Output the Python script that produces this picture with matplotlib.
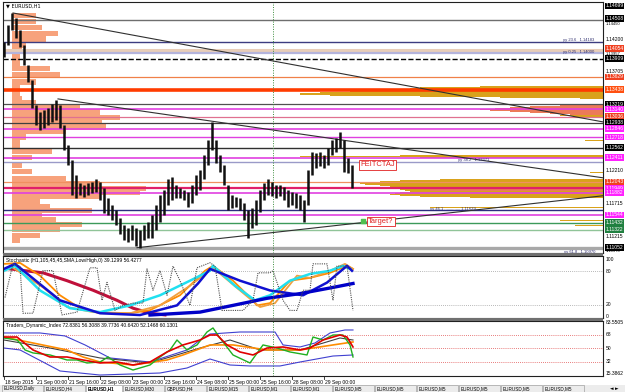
import matplotlib
matplotlib.use('Agg')
import matplotlib.pyplot as plt
import matplotlib.transforms as mtransforms
from matplotlib.patches import Rectangle

plt.rcParams['font.family'] = ['Liberation Sans', 'DejaVu Sans']

# ---------------- data ----------------
# price bars (each = 2 H1 bars), bar index = 2*k
highs = [1.1416, 1.1441, 1.1459, 1.1452, 1.1434, 1.1411, 1.1381, 1.1358, 1.1321, 1.1310,
         1.1313, 1.1316, 1.1322, 1.1328, 1.1321, 1.1290, 1.1260, 1.1238, 1.1215, 1.1203,
         1.1200, 1.1203, 1.1204, 1.1208, 1.1204, 1.1195, 1.1180, 1.1170, 1.1162, 1.1150,
         1.1140, 1.1135, 1.1140, 1.1135, 1.1132, 1.1140, 1.1144, 1.1155, 1.1170, 1.1185,
         1.1192, 1.1208, 1.1211, 1.1200, 1.1195, 1.1192, 1.1189, 1.1200, 1.1215, 1.1223,
         1.1245, 1.1268, 1.1295, 1.1268, 1.1245, 1.1230, 1.1200, 1.1185, 1.1182, 1.1180,
         1.1173, 1.1162, 1.1165, 1.1177, 1.1192, 1.1203, 1.1208, 1.1204, 1.1200, 1.1200,
         1.1197, 1.1192, 1.1189, 1.1188, 1.1185, 1.1177, 1.1223, 1.1250, 1.1248, 1.1250,
         1.1245, 1.1256, 1.1268, 1.1271, 1.1280, 1.1268, 1.1241, 1.1230]
lows = [1.1393, 1.1411, 1.1434, 1.1422, 1.1408, 1.1381, 1.1355, 1.1316, 1.1290, 1.1283,
        1.1286, 1.1290, 1.1295, 1.1298, 1.1286, 1.1253, 1.1230, 1.1185, 1.1180, 1.1185,
        1.1182, 1.1185, 1.1188, 1.1189, 1.1177, 1.1158, 1.1155, 1.1147, 1.1140, 1.1125,
        1.1117, 1.1113, 1.1117, 1.1108, 1.1105, 1.1117, 1.1120, 1.1120, 1.1132, 1.1144,
        1.1155, 1.1170, 1.1177, 1.1180, 1.1180, 1.1177, 1.1167, 1.1173, 1.1185, 1.1192,
        1.1208, 1.1230, 1.1253, 1.1233, 1.1220, 1.1200, 1.1162, 1.1165, 1.1167, 1.1162,
        1.1147, 1.1120, 1.1135, 1.1140, 1.1159, 1.1177, 1.1185, 1.1183, 1.1180, 1.1183,
        1.1177, 1.1167, 1.1170, 1.1165, 1.1162, 1.1144, 1.1170, 1.1215, 1.1226, 1.1229,
        1.1226, 1.1230, 1.1245, 1.1250, 1.1256, 1.1220, 1.1218, 1.1195]

# left volume profile
prof_price = [1.1455, 1.1446, 1.1437, 1.1428, 1.1420, 1.1411, 1.1402, 1.1393, 1.1384, 1.1375,
              1.1366, 1.1355, 1.1346, 1.1337, 1.1330, 1.1324, 1.1318, 1.1310, 1.1302, 1.1295,
              1.1287, 1.1280, 1.1272, 1.1265, 1.1257, 1.1250, 1.1241, 1.1230, 1.1220, 1.1209,
              1.1201, 1.1194, 1.1188, 1.1182, 1.1174, 1.1167, 1.1161, 1.1155, 1.1147, 1.1140,
              1.1132, 1.1123, 1.1116]
prof_vol = [12, 12, 15, 23, 17, 7, 5, 4, 4, 19,
            24, 12, 4, 4, 5, 12, 34, 44, 54, 45,
            47, 27, 7, 4, 4, 20, 10, 5, 10, 27,
            44, 67, 64, 44, 14, 19, 40, 15, 22, 35,
            24, 14, 4]

# right-anchored volume profile rows (gold)
rg_price = [1.13477, 1.13462, 1.13447, 1.13432, 1.13417, 1.13402, 1.13387, 1.13371, 1.13356, 1.13341,
            1.13326, 1.13311, 1.13296,
            1.13040, 1.13025, 1.13010, 1.12663, 1.12437, 1.12421, 1.12406, 1.12180,
            1.12075, 1.12060, 1.12045, 1.12029, 1.12014, 1.11999, 1.11984, 1.11969, 1.11954, 1.11939,
            1.11924, 1.11909, 1.11894, 1.11879, 1.11864, 1.11849, 1.11834, 1.11819, 1.11804,
            1.11652, 1.11456, 1.11381]
rg_len = [61.5, 91.5, 96.5, 101.5, 111.5, 126.5, 141.5, 151.5, 136.5, 111.5,
          91.5, 51.5, 11.5,
          21.5, 15, 10, 9, 101.5, 151.5, 91.5, 6.5,
          81.5, 101.5, 111.5, 116.5, 121.5, 119, 111.5, 106.5, 104, 101.5,
          101.5, 99, 96.5, 101.5, 104, 106.5, 101.5, 91.5, 66.5,
          86.5, 21.5, 14]
# right-anchored rows (salmon)
rs_price = [1.13191, 1.13175, 1.13160, 1.13145, 1.13130, 1.13115, 1.13100, 1.13085, 1.13070, 1.13055,
            1.11939, 1.11924, 1.11909]
rs_len = [21.5, 36.5, 46.5, 54, 61.5, 56.5, 46.5, 36.5, 26.5, 16.5,
          86.5, 86.5, 86.5]

# horizontal levels
lvl_price = [1.14487, 1.14156, 1.14035, 1.13990, 1.13899, 1.13628, 1.13432, 1.13221, 1.13146, 1.13025,
             1.12934, 1.12844, 1.12723, 1.12557, 1.12406, 1.12346, 1.12045, 1.11954, 1.11879, 1.11622,
             1.11547, 1.11426, 1.11321, 1.11050]
lvl_color = ['#6E6E6E', '#3C3C80', '#E8CDB8', '#B4B4DC', '#000000', '#F08048', '#FF3C00', '#505050', '#E040E0', '#E07090',
             '#404040', '#E040E0', '#E040E0', '#303030', '#E040E0', '#9A9AC8', '#F09060', '#E0206A', '#E040E0', '#2C2C80',
             '#E040E0', '#3C9A5A', '#90C498', '#A8A8A8']
lvl_width = [1.0, 1.0, 2.2, 1.6, 1.0, 0.9, 2.6, 0.9, 1.2, 0.9,
             0.9, 1.2, 1.0, 1.0, 1.2, 1.0, 0.9, 1.6, 1.2, 1.0,
             1.2, 1.0, 1.0, 2.4]
lvl_style = ['-', '-', '-', '-', '--', '-', '-', '-', '-', '-',
             '-', '-', '-', '-', '-', '-', '-', '-', '-', '-',
             '-', '-', '-', '-']

# trend lines (bar, price)
trend1 = ([4.5, 299.5], [1.14593, 1.12949])
trend2 = ([27.0, 299.5], [1.13296, 1.12105])
trend3 = ([66.5, 299.5], [1.11050, 1.11834])

# right axis price labels  (bg None = plain scale label)
ylab_price = [1.14699, 1.14508, 1.14427, 1.14200, 1.14054, 1.13978, 1.13909, 1.13705, 1.13629, 1.13438,
              1.13219, 1.13140, 1.13036, 1.12938, 1.12846, 1.12718, 1.12562, 1.12411, 1.12210, 1.12043,
              1.11949, 1.11882, 1.11715, 1.11544, 1.11432, 1.11322, 1.11215, 1.11052, 1.10995]
ylab_text = ['1.14699', '1.14508', '1.14450', '1.14200', '1.14054', '1.13957', '1.13909', '1.13705', '1.13629', '1.13438',
             '1.13219', '1.13140', '1.13036', '1.12938', '1.12846', '1.12718', '1.12562', '1.12411', '1.12210', '1.12043',
             '1.11949', '1.11882', '1.11715', '1.11544', '1.11432', '1.11322', '1.11215', '1.11052', '1.10970']
ylab_bg = ['#000000', '#000000', None, None, '#F04020', None, '#000000', None, '#F04020', '#FF5010',
           '#000000', '#FF20FF', '#F04020', '#000000', '#FF20FF', '#FF20FF', '#000000', '#FF20FF', None, '#F04020',
           '#FF20FF', '#FF20FF', None, '#FF20FF', '#208040', '#208040', None, '#000000', None]
ylab_small = ['1.14450', '1.13957', '1.10970']

# time axis
tick_bars = [0, 16, 32, 48, 64, 80, 96, 112, 128, 144, 160]
tick_labels = ['18 Sep 2015', '21 Sep 00:00', '21 Sep 16:00', '22 Sep 08:00', '23 Sep 00:00', '23 Sep 16:00',
               '24 Sep 08:00', '25 Sep 00:00', '25 Sep 16:00', '28 Sep 08:00', '29 Sep 00:00']
sep_bar = 134.5

# stochastic panel
st_fast_x = [0.5, 4.5, 8, 9.5, 14.5, 19.5, 24.5, 29, 36.5, 43, 46.5, 49, 51.5, 55.5, 59.5, 64.5, 69.5, 71.5, 74.5, 78,
             81.5, 84.5, 88, 93, 96.5, 103, 105.5, 109, 119.5, 124.5, 127, 133, 134.5, 139.5, 143, 146.5, 149.5, 153,
             154.5, 161.5, 164.5, 166.5, 171.5, 174.5]
st_fast_y = [33, 93, 89, 5, 5, 81, 81, 2, 7, 86, 86, 28, 60, 10, 19, 23, 23, 84, 46, 81,
             37, 89, 63, 19, 86, 95, 89, 10, 10, 28, 77, 77, 81, 28, 10, 10, 46, 46,
             93, 93, 28, 89, 89, 10]
st_crim_x = [3, 19.5, 31.5, 44.5, 56.5, 64.5, 73, 80.5]
st_crim_y = [84, 77, 63, 46, 28, 14, 5, 2]
st_or1_x = [0.5, 8, 18, 28, 38, 48, 63, 73, 88, 100.5, 104.5, 114.5, 123, 126.5, 133, 143, 153, 163, 171.5, 174.5]
st_or1_y = [93, 94.7, 72, 37, 14, 5, 5, 10.5, 37, 80.7, 89.5, 63, 33, 19, 23, 63, 68, 77, 89.5, 84]
st_or2_x = [3, 19.5, 31.5, 44.5, 63, 78, 93, 104.5, 118, 128, 135.5, 146.5, 153, 163, 170.5, 174.5]
st_or2_y = [89.5, 51, 16, 7, 5, 19, 54, 86, 45.6, 16, 23, 72, 68, 80.7, 93, 84]
st_cyan_x = [0, 5.5, 18, 33, 48, 63, 78, 93, 103, 104.5, 115.5, 125.5, 133, 143, 153, 163, 169.5, 173]
st_cyan_y = [80.7, 89.5, 45.6, 14, 7, 19, 37, 63, 80.7, 89.5, 54, 28, 37, 63, 75, 80.7, 89.5, 84]
st_blue1_x = [0, 5.5, 28, 48, 68, 86.5, 97, 103, 118, 133, 149.5, 161.5, 171.5, 174]
st_blue1_y = [84, 93, 28, 5, 1.8, 19, 58, 84, 63, 45.6, 37, 59.6, 89.5, 80.7]
st_blue2_x = [73, 98, 114.5, 131.5, 148, 164.5, 174.5]
st_blue2_y = [1.8, 7, 19, 31.6, 40, 51, 58]

# TDI panel
td_up_x = [0, 18, 30.5, 40.5, 53, 73, 91.5, 98, 103, 118, 135.5, 139.5, 148, 155.5, 163, 170.5, 174.5]
td_up_y = [70.2, 70.2, 66.2, 54.2, 36.8, 31.4, 47.5, 60.8, 68.8, 71.5, 71.5, 54.2, 51.5, 56.8, 70.2, 74.2, 74.2]
td_lo_x = [0, 8, 19.5, 28, 48, 78, 91.5, 103, 113, 123, 138, 148, 164.5, 174.5]
td_lo_y = [50.1, 47.5, 31.4, 19.4, 14.0, 16.7, 23.4, 35.4, 27.4, 26.1, 26.1, 31.4, 39.4, 40.8]
td_gr_x = [0, 6.5, 8, 10.5, 14.5, 23, 31.5, 36.5, 41.5, 48, 52, 58, 64.5, 73, 78, 83, 86.5, 91.5, 96.5, 101.5,
           104.5, 108, 114.5, 123, 129.5, 136.5, 143, 151.5, 154.5, 159.5, 164.5, 169.5, 173, 174.5]
td_gr_y = [63.5, 60.8, 56.8, 47.5, 43.5, 40.8, 34.1, 34.1, 30.1, 31.4, 38.1, 27.4, 20.7, 27.4, 38.1, 47.5, 60.8, 47.5, 54.2, 71.5,
           76.9, 63.5, 40.8, 30.1, 54.2, 50.1, 44.8, 40.8, 64.8, 60.8, 67.5, 67.5, 54.2, 38.1]
td_rd_x = [0, 6.5, 14.5, 23, 31.5, 39.5, 48, 56.5, 64.5, 73, 81.5, 89.5, 98, 103, 106.5, 111.5, 118, 124.5, 131.5,
           139.5, 148, 153, 159.5, 168, 171.5, 174.5]
td_rd_y = [64.8, 64.8, 47.5, 38.1, 38.1, 34.1, 30.1, 31.4, 27.4, 31.4, 44.8, 54.2, 60.8, 67.5, 67.5, 54.2, 44.8, 40.8, 50.1,
           51.5, 47.5, 50.1, 60.8, 67.5, 64.8, 51.5]
td_or_x = [0, 14.5, 31.5, 39.5, 48, 64.5, 81.5, 89.5, 103, 114.5, 131.5, 148, 164.5, 174.5]
td_or_y = [64.8, 56.8, 47.5, 38.1, 31.4, 27.4, 34.1, 40.8, 54.2, 54.2, 47.5, 47.5, 54.2, 58.2]
td_gy_x = [0, 23, 48, 73, 98, 113, 128, 148, 168, 174.5]
td_gy_y = [60.8, 50.1, 36.8, 30.1, 50.1, 60.8, 47.5, 47.5, 63.5, 60.8]

tabs = ['EURUSD,Daily', 'EURUSD,H4', 'EURUSD,H1', 'EURUSD,M30', 'GBPUSD,H4', 'EURUSD,M15', 'EURUSD,M1',
        'EURUSD,M1', 'EURUSD,M5', 'EURUSD,M5', 'EURUSD,M5', 'EURUSD,M5', 'EURUSD,M5', 'EURUSD,M5']

# ---------------- figure ----------------
W, H = 625, 392
fig = plt.figure(figsize=(W / 100, H / 100), dpi=100)
fig.patch.set_facecolor('white')


def pax(x0, y0, x1, y1):
    a = fig.add_axes([x0 / W, 1 - y1 / H, (x1 - x0) / W, (y1 - y0) / H])
    a.set_xlim(-0.5, 299.5)
    a.set_xticks([])
    a.set_yticks([])
    for s in a.spines.values():
        s.set_linewidth(0.8)
        s.set_color('#202020')
    return a


ax = pax(3, 2, 603, 253)
ax_s = pax(3, 256, 603, 318)
ax_t = pax(3, 321, 603, 376)

FS = 3.6
XR = 299.5

# ---- main chart ----
ax.set_ylim(1.10970, 1.14759)
ax.barh(prof_price, prof_vol, height=0.00080, left=4, color='#F7A27C', edgecolor='none', zorder=1)
ax.barh(rg_price, rg_len, height=0.00017, left=[XR - v for v in rg_len], color='#D9A21B',
        edgecolor='none', zorder=1.5)
ax.barh(rs_price, rs_len, height=0.00017, left=[XR - v for v in rs_len], color='#EC7A58',
        edgecolor='none', zorder=1.6)
for p, c, w, s in zip(lvl_price, lvl_color, lvl_width, lvl_style):
    ax.axhline(p, color=c, lw=w, ls=s, zorder=2)
for tx, ty in (trend1, trend2, trend3):
    ax.plot(tx, ty, color='#303030', lw=0.8, zorder=3)
bar_x = [2 * k for k in range(len(highs))]
ax.vlines(bar_x, lows, highs, color='#101010', lw=1.8, zorder=4)

for a in (ax, ax_s, ax_t):
    a.axvline(sep_bar, color='#3C8C3C', lw=0.7, ls=(0, (1, 1.5)), zorder=2.5)

ax.text(0.005, 0.995, '\u25bc EURUSD,H1', transform=ax.transAxes, fontsize=FS, va='top', ha='left',
        family=['DejaVu Sans'])

# annotations
ax.text(178, 1.1230, 'FEITCTAJ', fontsize=5.4, color='#E02020', va='center', ha='left', zorder=6,
        bbox=dict(boxstyle='square,pad=0.2', fc='white', ec='#E02020', lw=0.6))
ax.text(182, 1.1145, 'Target?', fontsize=5.4, color='#E02020', va='center', ha='left', zorder=6,
        bbox=dict(boxstyle='square,pad=0.15', fc='white', ec='#E02020', lw=0.6))
ax.scatter([179.5], [1.1145], marker='s', s=10, color='#50C050', zorder=7)

fib_txt = [(279.5, 1.14183, 'yy 23.6   1.14183'), (279.5, 1.14000, 'yy 0.25 . 1.14000'),
           (227, 1.12371, 'yy 38.2   1.12371'), (213, 1.11629, 'yy 46.1 .............. 1.11629'),
           (280, 1.10990, 'yy 61.8 . 1.10970')]
for fx, fy, ft in fib_txt:
    ax.text(fx, fy, ft, fontsize=3.0, color='#303070', va='center', ha='left', zorder=6)

trans = mtransforms.blended_transform_factory(ax.transAxes, ax.transData)
for p, t, bg in zip(ylab_price, ylab_text, ylab_bg):
    fs = 3.0 if t in ylab_small else FS
    if bg is None:
        ax.text(1.004, p, t, transform=trans, fontsize=fs, color='#000000', va='center', ha='left', clip_on=False)
    else:
        ax.text(1.004, p, t, transform=trans, fontsize=fs, color='white', va='center', ha='left', clip_on=False,
                bbox=dict(boxstyle='square,pad=0.15', fc=bg, ec='none'))

# ---- stochastic ----
ax_s.set_ylim(-3.5, 107)
for v in (80, 20):
    ax_s.axhline(v, color='#A0A0A0', lw=0.6, ls=(0, (1, 1.5)))
ax_s.plot(st_crim_x, st_crim_y, color='#C0103A', lw=2.2)
ax_s.plot(st_or1_x, st_or1_y, color='#FF8C00', lw=1.3)
ax_s.plot(st_or2_x, st_or2_y, color='#F0A040', lw=1.3)
ax_s.plot(st_cyan_x, st_cyan_y, color='#20E0F0', lw=1.8)
ax_s.plot(st_blue1_x, st_blue1_y, color='#1010D0', lw=1.8)
ax_s.plot(st_blue2_x, st_blue2_y, color='#0000C8', lw=2.4)
ax_s.plot(st_fast_x, st_fast_y, color='#505050', lw=0.8, ls=(0, (1, 1)))
ax_s.text(0.005, 0.97, 'Stochastic (H1,105,45,45,SMA,Low/High,0) 39.1299 56.4277', transform=ax_s.transAxes,
          fontsize=FS, va='top', ha='left')
ts = mtransforms.blended_transform_factory(ax_s.transAxes, ax_s.transData)
for v, t in ((100, '100'), (80, '80'), (20, '20'), (0, '0')):
    ax_s.text(1.004, v, t, transform=ts, fontsize=FS, va='center', ha='left', clip_on=False)

# ---- TDI ----
ax_t.set_ylim(12.7, 86.2)
for v in (68, 50, 32):
    ax_t.axhline(v, color='#E05050', lw=0.6, ls=(0, (1, 1.5)))
ax_t.plot(td_up_x, td_up_y, color='#4040D0', lw=0.8)
ax_t.plot(td_lo_x, td_lo_y, color='#4040D0', lw=0.8)
ax_t.plot(td_gy_x, td_gy_y, color='#404040', lw=0.8)
ax_t.plot(td_or_x, td_or_y, color='#FF8C00', lw=1.2)
ax_t.plot(td_gr_x, td_gr_y, color='#20B020', lw=1.0)
ax_t.plot(td_rd_x, td_rd_y, color='#E00000', lw=1.2)
ax_t.text(0.005, 0.97, 'Traders_Dynamic_Index 72.8381 56.3088 39.7736 40.6420 52.1468 60.1301',
          transform=ax_t.transAxes, fontsize=FS, va='top', ha='left')
tt = mtransforms.blended_transform_factory(ax_t.transAxes, ax_t.transData)
for v, t in ((83.5505, '83.5505'), (68, '68'), (50, '50'), (32, '32'), (15.3862, '15.3862')):
    ax_t.text(1.004, v, t, transform=tt, fontsize=FS, va='center', ha='left', clip_on=False)

# time labels
tx = mtransforms.blended_transform_factory(ax_t.transData, ax_t.transAxes)
for b, t in zip(tick_bars, tick_labels):
    ax_t.plot([b, b], [0, -0.06], transform=tx, color='#202020', lw=0.6, clip_on=False)
    ax_t.text(b + 0.5, -0.08, t, transform=tx, fontsize=FS, va='top', ha='left', clip_on=False)

# panel separators
for y0, y1 in ((253, 256), (318, 321)):
    fig.add_artist(Rectangle((3 / W, 1 - y1 / H), 600 / W, (y1 - y0) / H, transform=fig.transFigure,
                             fc='#707070', ec='none'))

# tab bar
fig.add_artist(Rectangle((0, 0), 1, 7 / H, transform=fig.transFigure, fc='#ECECEC', ec='none'))
x = 2
for i, t in enumerate(tabs):
    w = 41 if i != 2 else 36
    fc = 'white' if i == 2 else '#ECECEC'
    fig.add_artist(Rectangle((x / W, 0), w / W, 7 / H, transform=fig.transFigure, fc=fc, ec='#909090', lw=0.4))
    fig.text((x + 2) / W, 3.5 / H, t, fontsize=3.3, va='center', ha='left',
             fontweight='bold' if i == 2 else 'normal')
    x += w + 1
fig.text(610 / W, 3.5 / H, '\u25c4 \u25ba', fontsize=3.3, va='center', ha='left', family=['DejaVu Sans'])

fig.savefig('out.png', dpi=100, facecolor='white')
